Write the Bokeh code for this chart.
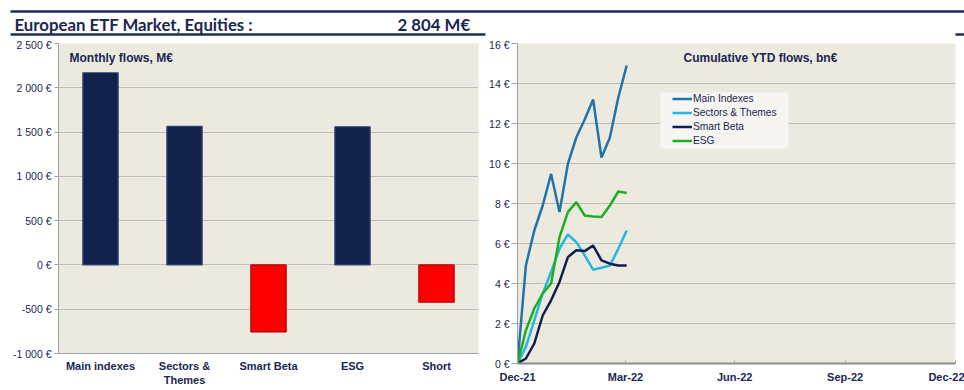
from datetime import datetime
import pandas as pd
from bokeh.plotting import figure
from bokeh.layouts import column, row
from bokeh.models import (Range1d, FactorRange, FixedTicker, Label, Legend, LegendItem,
                          DatetimeTickFormatter, BoxAnnotation, ColumnDataSource)
from bokeh.embed import file_html
from bokeh.resources import INLINE

# ---------------- data ----------------
TITLE = "European ETF Market, Equities :"
TOTAL = "2 804 M€"
LEFT_TITLE = "Monthly flows, M€"
RIGHT_TITLE = "Cumulative YTD flows, bn€"

categories = ["Main indexes", "Sectors &\nThemes", "Smart Beta", "ESG", "Short"]
monthly_flows = [2170, 1565, -756, 1560, -420]
left_ticks = [-1000, -500, 0, 500, 1000, 1500, 2000, 2500]

dates = ["2021-12-31", "2022-01-07", "2022-01-14", "2022-01-21", "2022-01-28",
         "2022-02-04", "2022-02-11", "2022-02-18", "2022-02-25", "2022-03-04",
         "2022-03-11", "2022-03-18", "2022-03-25", "2022-04-01"]
main_indexes = [0, 4.9, 6.65, 7.9, 9.48, 7.57, 9.98, 11.3, 12.2, 13.2, 10.3, 11.3, 13.3, 14.9]
sectors_themes = [0, 0.83, 2.16, 3.5, 4.58, 5.74, 6.45, 6.07, 5.41, 4.69, 4.79, 4.9, 5.74, 6.65]
smart_beta = [0, 0.25, 1.0, 2.4, 3.16, 4.08, 5.32, 5.66, 5.62, 5.9, 5.16, 4.99, 4.9, 4.9]
esg = [0, 1.66, 2.75, 3.5, 4.0, 6.32, 7.57, 8.07, 7.4, 7.35, 7.32, 7.9, 8.6, 8.52]
series_names = ["Main Indexes", "Sectors & Themes", "Smart Beta", "ESG"]
right_ticks = [0, 2, 4, 6, 8, 10, 12, 14, 16]
x_tick_dates = ["2021-12-31", "2022-03-31", "2022-06-30", "2022-09-30", "2022-12-31"]
x_start, x_end = "2021-12-31", "2022-12-31"

# ---------------- styles ----------------
NAVY_TXT = "#1B2653"
BEIGE = "#ECE9DF"
GRID = "#BDBDBD"
AXIS = "#A0A0A0"
BAR_POS, BAR_NEG = "#13214D", "#FF0000"
LINE_COLORS = ["#1F74AA", "#27B6E2", "#0F1E4E", "#1DAF1D"]
FONT = "Liberation Sans"


def fmt_thousands(v):
    return f"{v:,}".replace(",", " ") + " €"


# ---------------- header ----------------
header = figure(width=964, height=38, x_range=Range1d(0, 964), y_range=Range1d(0, 38),
                x_axis_type=None, y_axis_type=None, output_backend="svg",
                toolbar_location=None, min_border=0, outline_line_color=None,
                frame_align=False)
header.segment(x0=[10], y0=[27], x1=[964], y1=[27], line_color="#1F2A5C", line_width=2.5)
header.segment(x0=[10, 955], y0=[4, 4], x1=[485, 964], y1=[4, 4], line_color="#1F2A5C", line_width=2.5)
header.add_layout(Label(x=14, y=14.3, text=TITLE, text_font="Lato", text_font_style="bold",
                        text_font_size="16.8px", text_color=NAVY_TXT, text_baseline="middle"))
header.add_layout(Label(x=397, y=14.3, text=TOTAL, text_font="Lato", text_font_style="bold",
                        text_font_size="16.8px", text_color=NAVY_TXT, text_baseline="middle"))

# ---------------- left: monthly flows ----------------
left = figure(width=484, height=352, x_range=FactorRange(*categories, range_padding=0),
              y_range=Range1d(-1000, 2500), output_backend="svg", toolbar_location=None,
              min_border_left=58, min_border_right=6, min_border_top=5, min_border_bottom=37,
              background_fill_color=BEIGE, outline_line_color=None, frame_align=False)
src = ColumnDataSource(dict(
    cat=categories, val=monthly_flows,
    fill=[BAR_POS if v >= 0 else BAR_NEG for v in monthly_flows],
    line=["#34457A" if v >= 0 else "#B80000" for v in monthly_flows]))
left.vbar(x="cat", top="val", bottom=0, width=0.42, fill_color="fill", line_color="line",
          line_width=1.2, source=src)
left.xgrid.visible = False
left.ygrid.grid_line_color = GRID
left.yaxis.ticker = FixedTicker(ticks=left_ticks)
left.yaxis.major_label_overrides = {t: fmt_thousands(t) for t in left_ticks}
left.yaxis.major_label_text_font = FONT
left.yaxis.major_label_text_font_size = "10.5px"
left.yaxis.major_label_text_color = NAVY_TXT
left.yaxis.major_tick_out = 4
left.yaxis.major_tick_in = 0
left.yaxis.minor_tick_line_color = None
left.yaxis.major_tick_line_color = AXIS
left.yaxis.axis_line_color = AXIS
left.yaxis.major_label_standoff = 3
left.xaxis.major_tick_line_color = None
left.xaxis.major_tick_out = 0
left.xaxis.major_tick_in = 0
left.xaxis.axis_line_color = AXIS
left.xaxis.major_label_text_font = FONT
left.xaxis.major_label_text_font_style = "bold"
left.xaxis.major_label_text_font_size = "11px"
left.xaxis.major_label_text_color = NAVY_TXT
left.xaxis.major_label_standoff = 6
left.add_layout(Label(x=11, y=296, x_units="screen", y_units="screen", text=LEFT_TITLE,
                      text_font=FONT, text_font_style="bold", text_font_size="12px",
                      text_color=NAVY_TXT, text_baseline="middle"))

# ---------------- right: cumulative YTD ----------------
dts = pd.to_datetime(dates)
right = figure(width=480, height=352, x_axis_type="datetime",
               x_range=Range1d(pd.Timestamp(x_start), pd.Timestamp(x_end)),
               y_range=Range1d(0, 16), output_backend="svg", toolbar_location=None,
               min_border_left=33, min_border_right=9, min_border_top=5, min_border_bottom=27,
               background_fill_color=BEIGE, outline_line_color=None, frame_align=False)
renderers = []
for name, vals, col in zip(series_names, [main_indexes, sectors_themes, smart_beta, esg], LINE_COLORS):
    r = right.line(x=dts, y=vals, line_color=col, line_width=2.5)
    renderers.append((name, r))
right.xgrid.visible = False
right.ygrid.grid_line_color = GRID
right.yaxis.ticker = FixedTicker(ticks=right_ticks)
right.yaxis.major_label_overrides = {t: f"{t} €" for t in right_ticks}
right.yaxis.major_label_text_font = FONT
right.yaxis.major_label_text_font_size = "10.5px"
right.yaxis.major_label_text_color = NAVY_TXT
right.yaxis.major_tick_out = 6
right.yaxis.major_tick_in = 0
right.yaxis.minor_tick_line_color = None
right.yaxis.major_tick_line_color = AXIS
right.yaxis.axis_line_color = AXIS
right.yaxis.major_label_standoff = 2
right.xaxis.ticker = FixedTicker(ticks=[pd.Timestamp(d).value // 10**6 for d in x_tick_dates])
right.xaxis.formatter = DatetimeTickFormatter(
    milliseconds="%b-%y", seconds="%b-%y", minsec="%b-%y", minutes="%b-%y", hourmin="%b-%y",
    hours="%b-%y", days="%b-%y", months="%b-%y", years="%b-%y")
right.xaxis.major_label_text_font = FONT
right.xaxis.major_label_text_font_style = "bold"
right.xaxis.major_label_text_font_size = "11px"
right.xaxis.major_label_text_color = NAVY_TXT
right.xaxis.major_tick_in = 3
right.xaxis.major_tick_out = 0
right.xaxis.minor_tick_line_color = None
right.xaxis.major_tick_line_color = AXIS
right.xaxis.axis_line_color = "#8C8C8C"
right.xaxis.axis_line_width = 2
right.xaxis.major_label_standoff = 7
right.add_layout(Label(x=166, y=306, x_units="screen", y_units="screen", text=RIGHT_TITLE,
                       text_font=FONT, text_font_style="bold", text_font_size="12px",
                       text_color=NAVY_TXT, text_baseline="middle"))

right.add_layout(BoxAnnotation(left=143, right=271, bottom=215, top=271,
                               left_units="screen", right_units="screen",
                               bottom_units="screen", top_units="screen",
                               fill_color="#F6F5F1", fill_alpha=1, line_color=None))
legend = Legend(items=[LegendItem(label=n, renderers=[r]) for n, r in renderers],
                location=(155, 216), padding=0, margin=0, spacing=1,
                label_height=13, glyph_height=13, glyph_width=20, label_standoff=1,
                label_text_font=FONT, label_text_font_size="10.2px",
                label_text_color=NAVY_TXT, background_fill_alpha=0, border_line_color=None)
right.add_layout(legend)

layout = column(header, row(left, right, spacing=0), spacing=0)
open("out.html", "w").write(file_html(layout, INLINE))
